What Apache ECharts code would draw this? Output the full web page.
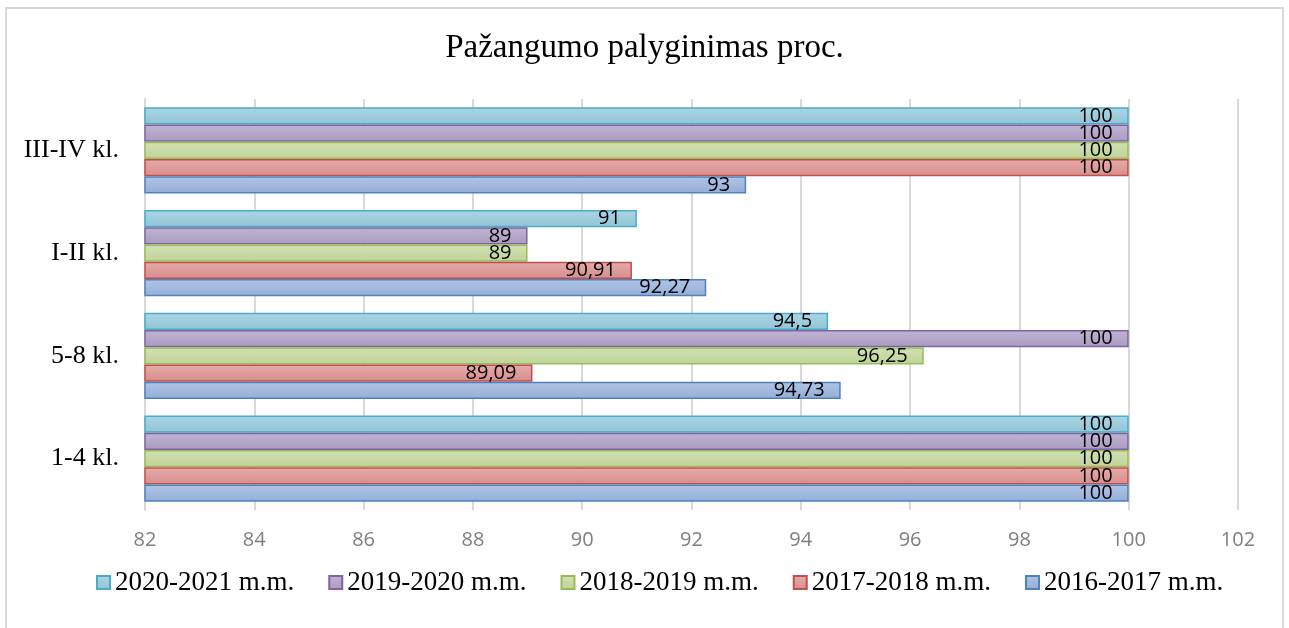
<!DOCTYPE html>
<html>
<head>
<meta charset="utf-8">
<script src="https://cdn.jsdelivr.net/npm/echarts@6/dist/echarts.min.js"></script>
<style>
html,body{margin:0;padding:0;background:#fff;}
#chart{width:1289px;height:628px;}
</style>
</head>
<body>
<div id="chart"></div>
<script>
const title = 'Pažangumo palyginimas proc.';
const categories = ['1-4 kl.', '5-8 kl.', 'I-II kl.', 'III-IV kl.'];
const xTicks = [82, 84, 86, 88, 90, 92, 94, 96, 98, 100, 102];
const seriesNames = ['2020-2021 m.m.', '2019-2020 m.m.', '2018-2019 m.m.', '2017-2018 m.m.', '2016-2017 m.m.'];
const s2020 = [100, 94.5, 91, 100];
const s2019 = [100, 100, 89, 100];
const s2018 = [100, 96.25, 89, 100];
const s2017 = [100, 89.09, 90.91, 100];
const s2016 = [100, 94.73, 92.27, 93];
const seriesValues = [s2020, s2019, s2018, s2017, s2016];

const palette = [
  {top: '#acd6e4', bottom: '#90c4d6', border: '#4bacc6'},
  {top: '#c0b4d3', bottom: '#aa9bc1', border: '#8064a2'},
  {top: '#d2e0b2', bottom: '#bfd399', border: '#9bbb59'},
  {top: '#e5acab', bottom: '#d78d8b', border: '#c0504d'},
  {top: '#b0c5e5', bottom: '#94aed8', border: '#4f81bd'}
];

const chart = echarts.init(document.getElementById('chart'));
const fmt = v => String(v).replace('.', ',');

const series = seriesNames.map((name, i) => ({
  name: name,
  type: 'bar',
  data: seriesValues[i],
  barGap: '0%',
  barCategoryGap: '16%',
  itemStyle: {
    color: new echarts.graphic.LinearGradient(0, 0, 0, 1, [
      {offset: 0, color: palette[i].top},
      {offset: 1, color: palette[i].bottom}
    ]),
    borderColor: palette[i].border,
    borderWidth: 1.5
  },
  label: {
    show: true,
    position: 'insideRight',
    distance: 16,
    color: '#000',
    fontFamily: 'Open Sans',
    fontSize: 20,
    formatter: p => fmt(p.value)
  }
}));

chart.setOption({
  animation: false,
  backgroundColor: '#fff',
  graphic: [{
    type: 'rect',
    shape: {x: 6, y: 8, width: 1277, height: 640},
    style: {fill: 'none', stroke: '#d9d9d9', lineWidth: 2},
    silent: true
  }],
  title: {
    text: title,
    left: 'center',
    top: 27,
    textStyle: {fontFamily: 'Liberation Serif', fontSize: 33, fontWeight: 'normal', color: '#000'}
  },
  legend: {
    data: seriesNames,
    left: 91,
    top: 564,
    icon: 'rect',
    itemWidth: 13,
    itemHeight: 13,
    itemGap: 34,
    textStyle: {fontFamily: 'Liberation Serif', fontSize: 27, color: '#000'}
  },
  grid: {left: 145, right: 51, top: 99, bottom: 118, containLabel: false},
  xAxis: {
    type: 'value',
    min: 82,
    max: 102,
    interval: 2,
    axisLine: {show: false},
    axisTick: {show: false},
    splitLine: {show: true, lineStyle: {color: '#d9d9d9', width: 2}},
    axisLabel: {
      color: '#7f7f7f',
      fontFamily: 'Open Sans',
      fontSize: 20,
      margin: 20,
      formatter: v => xTicks.indexOf(v) >= 0 ? String(v) : ''
    }
  },
  yAxis: {
    type: 'category',
    data: categories,
    axisLine: {show: true, lineStyle: {color: '#d9d9d9', width: 2}},
    axisTick: {show: false},
    axisLabel: {color: '#000', fontFamily: 'Liberation Serif', fontSize: 26, margin: 26}
  },
  series: series
});
</script>
</body>
</html>
